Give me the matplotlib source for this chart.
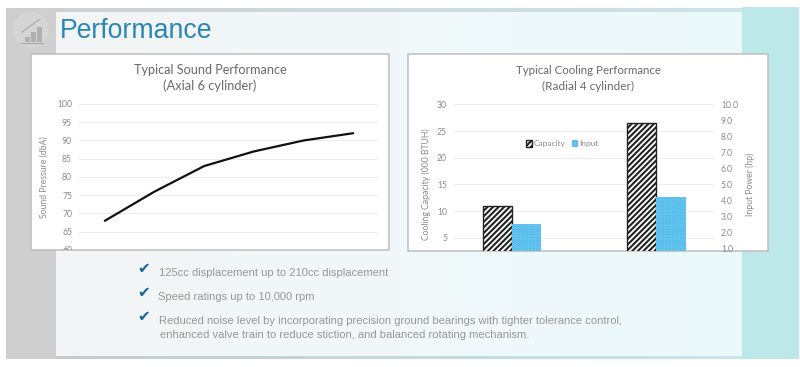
import numpy as np
import matplotlib
matplotlib.use("Agg")
import matplotlib.pyplot as plt
from matplotlib.colors import LinearSegmentedColormap
from matplotlib.patches import Rectangle, Circle, Patch
from matplotlib.transforms import Bbox, TransformedBbox

# data
sound_x = [0, 1, 2, 3, 4, 5]
sound_db = [68, 76, 83, 87, 90, 92]
sound_ticks = [60, 65, 70, 75, 80, 85, 90, 95, 100]

cool_x = [0, 1]
capacity = [11, 26.5]
input_power = [2.5, 4.2]
cool_ticks = [5, 10, 15, 20, 25, 30]
power_ticks = [1, 2, 3, 4, 5, 6, 7, 8, 9, 10]

bullets = [
    "125cc displacement up to 210cc displacement",
    "Speed ratings up to 10,000 rpm",
    "Reduced noise level by incorporating precision ground bearings with tighter tolerance control,",
    "enhanced valve train to reduce stiction, and balanced rotating mechanism.",
]

W, H = 800, 367
CHART_FONT = "Lato"
TITLE_C = "#696969"
TICK_C = "#8a8a8a"
GRID_C = "#ececec"

plt.rcParams["hatch.linewidth"] = 1.5


def px_axes(fig, x0, y0, x1, y1, **kw):
    # pixel box, y counted from the top of the image
    return fig.add_axes([x0 / W, 1 - y1 / H, (x1 - x0) / W, (y1 - y0) / H], **kw)


def clean(ax):
    for s in ax.spines.values():
        s.set_visible(False)
    ax.patch.set_alpha(0)
    ax.tick_params(length=0, labelsize=6.2, labelcolor=TICK_C, pad=5)
    for lab in ax.get_yticklabels():
        lab.set_fontfamily(CHART_FONT)


def gradient(ax, x0, y0, x1, y1, colors):
    cmap = LinearSegmentedColormap.from_list("g", colors)
    ax.imshow(np.linspace(0, 1, 256).reshape(1, -1), cmap=cmap, aspect="auto",
              extent=(x0, x1, y1, y0), zorder=1)


fig = plt.figure(figsize=(8, 3.67), dpi=100, facecolor="white")

# slide background
bg = fig.add_axes([0, 0, 1, 1])
bg.axis("off")
bg.add_patch(Rectangle((742, 7), 57, 352, fc="#bde8ea", ec="none", zorder=1))
gradient(bg, 6, 8, 742, 12, ["#cfcfcf", "#c9e6e9"])
gradient(bg, 6, 356, 742, 359, ["#c8c8c8", "#c4e8ea"])
bg.add_patch(Rectangle((6, 8), 50, 351, fc="#cfcfcf", ec="none", zorder=1))
gradient(bg, 56, 12, 742, 356, ["#f3f4f5", "#f1f8fa", "#ebf9fb"])

# icon
bg.add_patch(Circle((31, 30), 18, fc="#d5d5d5", ec="none", zorder=2))
bg.add_patch(Rectangle((25, 37), 5, 5, fc="#b0b0b0", ec="none", zorder=3))
bg.add_patch(Rectangle((31, 32), 5, 10, fc="#b0b0b0", ec="none", zorder=3))
bg.add_patch(Rectangle((37, 27), 5, 15, fc="#b0b0b0", ec="none", zorder=3))
bg.plot([21, 43], [42.5, 42.5], color="#a8a8a8", lw=0.8, zorder=3)
bg.plot([22, 40], [32, 19], color="#b0b0b0", lw=1, zorder=3)

bg.text(60, 31.5, "Performance", color="#2a86b6", fontsize=19.2, family="Liberation Sans",
        va="center", ha="left", zorder=4)

# chart boxes
bg.add_patch(Rectangle((31, 54), 358, 196, fc="white", ec="#bdbdbd", lw=1.1, zorder=2))
bg.add_patch(Rectangle((408, 54), 360, 197, fc="white", ec="#bdbdbd", lw=1.1, zorder=2))

bg.text(210, 70, "Typical Sound Performance", color=TITLE_C, fontsize=9.1, family=CHART_FONT,
        ha="center", va="center", zorder=4)
bg.text(210, 85.5, "(Axial 6 cylinder)", color=TITLE_C, fontsize=9.3, family=CHART_FONT,
        ha="center", va="center", zorder=4)
bg.text(588.5, 70.5, "Typical Cooling Performance", color=TITLE_C, fontsize=8.3, family=CHART_FONT,
        ha="center", va="center", zorder=4)
bg.text(588.5, 86.5, "(Radial 4 cylinder)", color=TITLE_C, fontsize=8.5, family=CHART_FONT,
        ha="center", va="center", zorder=4)

# bullet list
for y in [268, 292.5, 316]:
    bg.text(143.5, y, "\u2714", color="#17699b", fontsize=11, family="DejaVu Sans",
            ha="center", va="center", zorder=4)
for txt, x, y in zip(bullets, [159, 158, 159, 160], [272.5, 296.5, 320.5, 335.5]):
    bg.text(x, y, txt, color="#979797", fontsize=7.98, family="Liberation Sans",
            ha="left", va="center", zorder=4)

bg.set_xlim(0, W)
bg.set_ylim(H, 0)

# left chart
ax1 = px_axes(fig, 79, 104, 378, 250)
ax1.plot(sound_x, sound_db, color="#111111", lw=1.6, solid_capstyle="round")
ax1.set_xlim(-0.52, 5.5)
ax1.set_ylim(60, 100)
ax1.set_yticks(sound_ticks)
ax1.set_xticks([])
ax1.grid(axis="y", color=GRID_C, lw=0.7)
ax1.set_axisbelow(True)
clean(ax1)
ax1.set_ylabel("Sound Pressure (dbA)", fontsize=6.2, color=TICK_C, family=CHART_FONT)
ax1.yaxis.set_label_coords((49 - 79) / 299, 1 - (177 - 104) / 146)

# left chart, lowest tick label is cut by the box edge
clip1 = TransformedBbox(Bbox([[-0.2, 0], [1, 1.1]]), ax1.transAxes)
for lab in ax1.get_yticklabels():
    lab.set_clip_box(clip1)
    lab.set_clip_on(True)

# right chart
ax2 = px_axes(fig, 454, 104.3, 714, 251)
ax2.set_xlim(-0.401, 1.398)
ax2.set_ylim(2.53, 30)
bar_w = 0.202
ax2.bar(np.array(cool_x) - bar_w / 2, capacity, bar_w, facecolor="white", edgecolor="#222222",
        hatch="//////", lw=1.0)
ax2.set_yticks(cool_ticks)
ax2.set_xticks([])
ax2.grid(axis="y", color=GRID_C, lw=0.7)
ax2.set_axisbelow(True)
clean(ax2)
ax2.set_ylabel("Cooling Capacity (000 BTUH)", fontsize=6.2, color=TICK_C, family=CHART_FONT)
ax2.yaxis.set_label_coords((431 - 454) / 260, 1 - (184 - 104.3) / 146.7)

ax3 = ax2.twinx()
ax3.set_ylim(0.83, 10)
ax3.bar(np.array(cool_x) + bar_w / 2, input_power, bar_w, facecolor="#3cb2ea", edgecolor="#7fd0f2",
        hatch="......", lw=0)
ax3.set_yticks(power_ticks)
ax3.set_yticklabels([f"{v:.1f}" for v in power_ticks])
clean(ax3)
ax3.tick_params(pad=5)
ax3.set_ylabel("Input Power (hp)", fontsize=6.2, color=TICK_C, family=CHART_FONT)
ax3.yaxis.set_label_coords((745 - 454) / 260, 1 - (184 - 104.3) / 146.7)

handles = [
    Patch(facecolor="white", edgecolor="#222222", hatch="//////", label="Capacity"),
    Patch(facecolor="#3cb2ea", edgecolor="#7fd0f2", hatch="......", lw=0, label="Input"),
]
ax3.legend(handles=handles, ncol=2, frameon=False, labelcolor=TICK_C,
           prop={"family": CHART_FONT, "size": 6}, handlelength=0.7, handleheight=0.8,
           handletextpad=0.2, columnspacing=0.7, borderpad=0, borderaxespad=0,
           loc="center", bbox_to_anchor=((562.5 - 454) / 260, 1 - (143.7 - 104.3) / 146.7))

fig.savefig("out.png", dpi=100)
